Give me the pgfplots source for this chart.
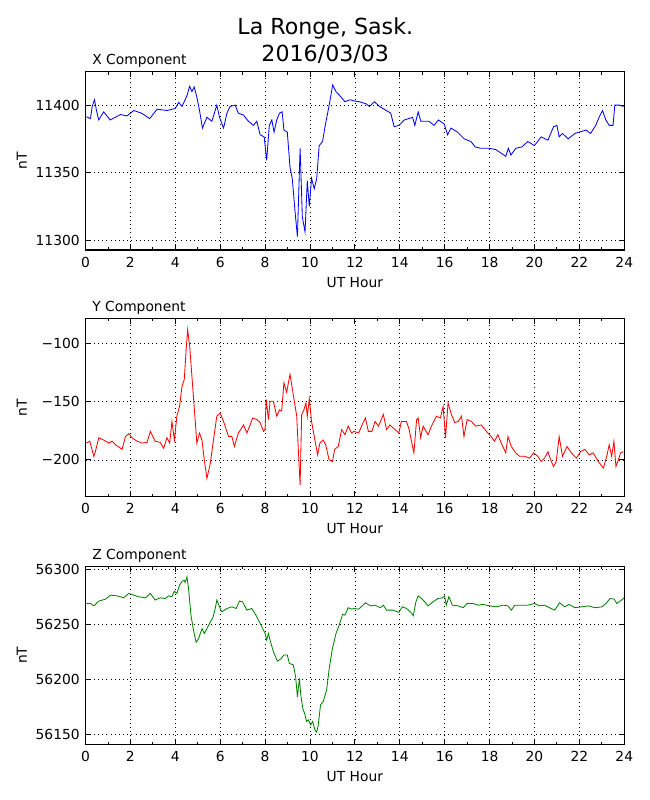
\documentclass[border=0pt]{standalone}
\usepackage{fontspec}
\setmainfont{DejaVu Sans}
\usepackage{pgfplots}
\usepackage{pgfplotstable}
\pgfplotsset{compat=1.18}

\pgfplotstableread{
h v
0.04 11391.4
0.22 11390
0.30 11399
0.40 11404
0.49 11396
0.59 11389
0.81 11395
1.10 11389
1.56 11393
1.85 11392
2.15 11396
2.50 11394
2.86 11390
3.19 11397
3.63 11396
4.00 11397.5
4.15 11402
4.30 11399
4.52 11407
4.64 11414
4.74 11410
4.84 11413.5
4.96 11406
5.08 11396
5.21 11383
5.41 11391
5.63 11388
5.85 11400
5.97 11391
6.15 11383
6.30 11394
6.44 11399
6.67 11400
6.81 11394
7.04 11392.6
7.26 11388
7.48 11385
7.63 11388
7.78 11378
7.96 11376.5
8.07 11359
8.19 11385
8.30 11389
8.40 11380
8.52 11389
8.64 11394
8.76 11395
8.84 11381.5
8.99 11380
9.11 11354
9.21 11345.7
9.33 11322
9.44 11302.5
9.56 11368
9.66 11317
9.78 11306
9.88 11344
9.97 11325
10.07 11345.7
10.19 11338
10.30 11345.7
10.41 11370
10.56 11373
10.67 11384
10.81 11396
10.92 11406
11.01 11415
11.16 11410
11.33 11407
11.56 11402.5
11.78 11404
12.00 11403
12.20 11402.5
12.50 11401
12.65 11399
12.87 11402.5
13.10 11399
13.40 11396
13.60 11394
13.75 11384
13.97 11385
14.20 11389
14.40 11390
14.57 11391
14.67 11385
14.82 11395
14.94 11388
15.30 11388
15.53 11385
15.72 11389
15.98 11386
16.13 11378
16.28 11383
16.57 11380
16.87 11375
17.17 11373
17.36 11369
17.61 11368
17.98 11368
18.28 11367
18.55 11364
18.72 11362
18.84 11368
18.95 11363
19.17 11368
19.44 11369
19.70 11373
20.00 11370
20.30 11376.5
20.60 11374
20.85 11384
21.00 11385
21.10 11376.5
21.25 11379
21.50 11375
21.80 11379
22.00 11380
22.30 11381.5
22.50 11379
22.73 11385
22.88 11391
23.03 11396
23.18 11389
23.33 11385
23.50 11385
23.58 11400
23.78 11400
23.96 11399
}\xdata

\pgfplotstableread{
h v
0.04 -185.6
0.19 -184
0.37 -197
0.44 -193
0.59 -181
0.81 -183
1.04 -185.6
1.19 -184
1.33 -187
1.63 -191
1.78 -180
1.93 -177.5
2.07 -181
2.30 -184
2.52 -185.6
2.74 -185
2.89 -175.5
3.10 -184
3.33 -185
3.48 -190
3.63 -181
3.75 -185.6
3.85 -167
3.96 -183
4.07 -162.5
4.19 -154
4.30 -136.6
4.40 -131
4.49 -103.5
4.55 -88.2
4.64 -102
4.74 -128
4.84 -154
4.96 -185.6
5.08 -177
5.19 -183
5.29 -200
5.41 -216
5.56 -203
5.70 -183
5.85 -162.5
6.00 -159.7
6.15 -167
6.37 -180
6.52 -180
6.63 -188.5
6.81 -177
7.04 -170
7.19 -177
7.45 -164
7.63 -165.4
7.78 -168
7.93 -175.5
8.00 -174
8.05 -148
8.15 -165.4
8.22 -149.6
8.37 -149.6
8.52 -162.5
8.64 -157
8.74 -158
8.84 -133.7
8.96 -142
9.11 -126.5
9.29 -148
9.41 -162.5
9.48 -191
9.56 -221.6
9.63 -161
9.73 -157
9.82 -151
9.88 -162.5
9.97 -147.5
10.07 -167
10.22 -183
10.34 -195.7
10.44 -185.6
10.59 -183
10.70 -187
10.85 -200
11.00 -201.4
11.10 -191
11.26 -188.5
11.41 -174
11.56 -178.4
11.70 -171
11.85 -177
11.96 -175.5
12.17 -177
12.32 -170
12.47 -164
12.60 -175.5
12.76 -175.5
12.90 -167
13.05 -171
13.27 -161
13.41 -174
13.56 -170
13.79 -174
13.96 -177
14.07 -167
14.30 -167
14.42 -174
14.52 -184
14.63 -194
14.75 -165.4
14.82 -164
14.93 -181
15.04 -171
15.26 -178.4
15.41 -171
15.63 -162.5
15.81 -164
15.93 -154
16.04 -181
16.15 -151
16.30 -161
16.45 -168
16.60 -167
16.75 -162.5
16.86 -180
17.00 -165.4
17.19 -167
17.38 -171
17.63 -170
17.86 -175.5
18.07 -180
18.22 -184
18.37 -178.4
18.52 -185.6
18.72 -194
18.82 -180
18.97 -188.5
19.16 -194
19.34 -197
19.56 -197
19.79 -198.5
19.96 -194
20.15 -197
20.30 -201.4
20.45 -198.5
20.60 -193
20.75 -201.4
20.85 -205.8
20.97 -201.4
21.10 -180
21.25 -197
21.45 -188.5
21.64 -194
21.87 -198.5
22.05 -193
22.24 -191
22.44 -195.7
22.62 -194
22.84 -201.4
23.07 -207
23.22 -197
23.33 -187
23.44 -197
23.54 -184
23.63 -205.8
23.74 -200
23.84 -194
23.96 -193
}\ydata

\pgfplotstableread{
h v
0.04 56268.9
0.22 56268.9
0.37 56266.7
0.59 56271
0.89 56272.8
1.11 56276.4
1.41 56275.8
1.70 56274
1.93 56278
2.15 56276.4
2.37 56275
2.67 56274
2.89 56278
3.10 56272
3.33 56274
3.56 56273.4
3.70 56275.8
3.85 56275
3.96 56280
4.07 56278
4.19 56285.5
4.30 56289
4.40 56290
4.44 56288
4.52 56293
4.59 56282.5
4.70 56258
4.81 56244.7
4.93 56233.5
5.04 56237
5.19 56246
5.29 56241.6
5.41 56246
5.56 56252
5.67 56255.8
5.78 56264.3
5.85 56272
5.97 56265.8
6.07 56261.3
6.30 56264.3
6.52 56265.8
6.71 56264.3
6.86 56271
7.00 56270.4
7.19 56262.8
7.41 56264.3
7.63 56256.8
7.85 56247.7
8.00 56241.6
8.07 56235.6
8.15 56241.6
8.22 56235.6
8.37 56225
8.55 56216.5
8.70 56218.4
8.84 56222
8.99 56222
9.08 56214.4
9.26 56213
9.36 56202.3
9.44 56184
9.53 56200.8
9.59 56185.7
9.68 56173.6
9.78 56167.6
9.85 56161.6
9.93 56163
10.03 56158.5
10.12 56161.6
10.22 56154
10.30 56151.8
10.37 56158.5
10.47 56176.6
10.59 56179.6
10.74 56190.2
10.86 56210
11.00 56228
11.16 56241.6
11.30 56249
11.45 56258.9
11.56 56258.3
11.70 56265
11.85 56263.7
11.96 56264.3
12.17 56263.7
12.36 56267.3
12.47 56269.5
12.69 56266.7
12.90 56267.3
13.13 56265
13.27 56267.3
13.41 56262.8
13.71 56262.8
13.96 56260.7
14.11 56265.8
14.30 56264.3
14.47 56261.3
14.60 56257.7
14.72 56270.4
14.82 56275.8
14.97 56273.4
15.11 56270.4
15.26 56266.7
15.48 56270.4
15.70 56273.4
15.90 56274
16.00 56275.8
16.07 56267.3
16.19 56275
16.34 56267.3
16.60 56266.7
16.82 56265
17.00 56268.9
17.26 56268.9
17.49 56267.3
17.71 56268
18.00 56266.7
18.30 56265.8
18.60 56267.3
18.82 56266.7
18.97 56262.8
19.12 56267.3
19.41 56267.3
19.71 56267.3
20.00 56268.9
20.23 56266.7
20.45 56267.3
20.67 56265
20.90 56262.8
21.12 56269.5
21.35 56265.8
21.54 56268
21.80 56265
22.10 56265.8
22.40 56266.7
22.70 56265
23.00 56265.8
23.19 56268.9
23.37 56273.4
23.55 56272.8
23.67 56268.9
23.82 56271
24.00 56274
}\zdata

\pgfplotsset{
  magstyle/.style={
    scale only axis,
    width=387.9bp, height=128.3bp,
    anchor=south west,
    xmin=0, xmax=24,
    xtick={0,2,...,24},
    xticklabels={0,2,4,6,8,10,12,14,16,18,20,22,24},
    minor xtick={1,3,...,23},
    scaled y ticks=false,
    scaled x ticks=false,
    tick align=inside,
    tick pos=both,
    major tick length=4bp,
    minor tick length=2bp,
    every tick/.style={black, line width=0.6bp},
    xmajorgrids, ymajorgrids,
    major grid style={black, line width=0.45bp, dash pattern=on 0.6bp off 2.4bp},
    axis line style={line width=0.75bp},
    tick label style={font=\fontsize{10}{12}\selectfont},
    xticklabel style={anchor=base, yshift=-12.3bp},
    yticklabel style={anchor=east, inner sep=0pt, xshift=-4bp},
    xlabel={UT Hour},
    xlabel style={font=\fontsize{10}{12}\selectfont, at={(axis description cs:0.5,-0.2095)}, anchor=base},
    ylabel={nT},
    ylabel style={font=\fontsize{10}{12}\selectfont, at={(axis description cs:-0.109,0.5)}, anchor=base},
    every axis title shift=0pt,
    title style={font=\fontsize{10}{12}\selectfont, inner sep=0pt, at={(axis description cs:0.0121,1.039)}, anchor=base west},
  }
}

\begin{document}
\begin{tikzpicture}
\path[use as bounding box] (0,0) rectangle (468bp,576bp);
\node[anchor=base, font=\fontsize{16}{19}\selectfont] at (234.2bp,551.5bp) {La Ronge, Sask.};
\node[anchor=base, font=\fontsize{16}{19}\selectfont] at (234.2bp,531.6bp) {2016/03/03};

\begin{axis}[magstyle, at={(61.56bp,396bp)},
  ymin=11292.6, ymax=11424.7,
  ytick={11300,11350,11400}, yticklabels={11300,11350,11400},
  title={X Component}]
\addplot[blue, line width=0.6bp, no marks] table[x=h, y=v] {\xdata};
\end{axis}

\begin{axis}[magstyle, at={(61.56bp,218.4bp)},
  ymin=-231.7, ymax=-78.4,
  ytick={-200,-150,-100}, yticklabels={−200,−150,−100},
  title={Y Component}]
\addplot[red, line width=0.6bp, no marks] table[x=h, y=v] {\ydata};
\end{axis}

\begin{axis}[magstyle, at={(61.56bp,40bp)},
  ymin=56140.7, ymax=56302.7,
  ytick={56150,56200,56250,56300}, yticklabels={56150,56200,56250,56300},
  title={Z Component}]
\addplot[color={rgb,1:red,0;green,0.5;blue,0}, line width=0.6bp, no marks] table[x=h, y=v] {\zdata};
\end{axis}
\end{tikzpicture}
\end{document}
